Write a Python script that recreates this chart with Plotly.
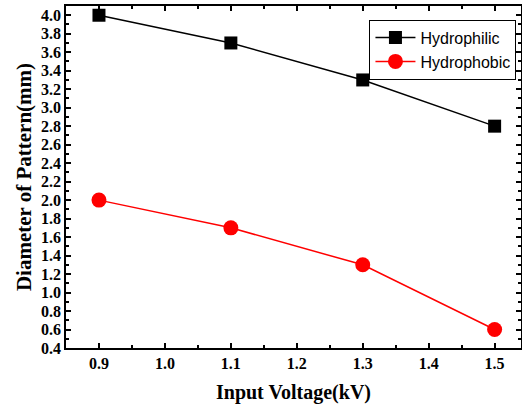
import plotly.graph_objects as go

voltage = [0.9, 1.1, 1.3, 1.5]
hydrophilic = [4.0, 3.7, 3.3, 2.8]
hydrophobic = [2.0, 1.7, 1.3, 0.6]

fig = go.Figure()
fig.add_trace(go.Scatter(x=voltage, y=hydrophilic, mode="lines+markers", name="Hydrophilic",
                         line=dict(color="black", width=1.5),
                         marker=dict(symbol="square", size=13, color="black")))
fig.add_trace(go.Scatter(x=voltage, y=hydrophobic, mode="lines+markers", name="Hydrophobic",
                         line=dict(color="red", width=1.5),
                         marker=dict(symbol="circle", size=15, color="red")))

axis_common = dict(showline=True, linecolor="black", linewidth=1.5, mirror="ticks",
                   ticks="inside", ticklen=5, tickwidth=1.5, tickcolor="black",
                   showgrid=False, zeroline=False,
                   tickfont=dict(family="Liberation Serif", size=16, color="black", weight="bold"))

fig.update_xaxes(range=[0.85, 1.54], dtick=0.1, tick0=0.9, tickformat=".1f",
                 minor=dict(ticks="inside", ticklen=3, dtick=0.05, tickcolor="black", tickwidth=1.5),
                 title=dict(text="Input Voltage(kV)", standoff=14,
                            font=dict(family="Liberation Serif", size=20, color="black", weight="bold")),
                 **axis_common)
fig.update_yaxes(range=[0.4, 4.1], dtick=0.2, tick0=0.4, tickformat=".1f",
                 minor=dict(ticks="inside", ticklen=3, dtick=0.1, tickcolor="black", tickwidth=1.5),
                 title=dict(text="Diameter of Pattern(mm)", standoff=4,
                            font=dict(family="Liberation Serif", size=21, color="black", weight="bold")),
                 **axis_common)

fig.update_layout(width=522, height=407, margin=dict(l=66, r=1, t=6, b=59, autoexpand=False),
                  plot_bgcolor="white", paper_bgcolor="white",
                  legend=dict(x=0.99, y=0.96, xanchor="right", yanchor="top",
                              bordercolor="black", borderwidth=1, bgcolor="white",
                              font=dict(family="Liberation Sans", size=16, color="black"),
                              tracegroupgap=0, itemwidth=40))

fig.write_html("out.html", config={"displayModeBar": False},
               post_script="document.body.style.margin='0px';")
